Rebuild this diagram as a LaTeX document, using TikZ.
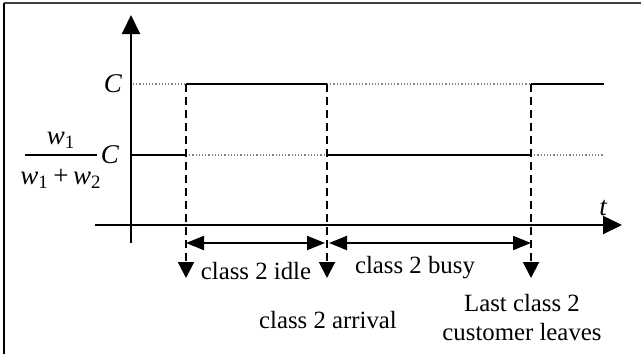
\documentclass[tikz,border=0pt]{standalone}
\usepackage{fontspec}
\setmainfont{Liberation Serif}
\usetikzlibrary{arrows.meta}
\tikzset{
  axis/.style={line width=1pt,-{Triangle[length=9.5pt,width=9pt]}},
  level/.style={line width=1.2pt},
  guide/.style={line width=0.6pt,gray,densely dotted},
  drop/.style={line width=1pt,dash pattern=on 4pt off 2.5pt,-{Triangle[length=8pt,width=8pt]}},
  span/.style={line width=1pt,{Triangle[length=9pt,width=7pt]}-{Triangle[length=9pt,width=7pt]}},
  lbl/.style={font=\fontsize{12.4}{14.5}\selectfont,inner sep=0pt},
  sym/.style={font=\fontsize{13.5}{15}\selectfont\itshape,inner sep=0pt}
}
\begin{document}
\begin{tikzpicture}[x=0.5pt,y=-0.5pt]
\useasboundingbox (0,0) rectangle (641,354);
% frame
\draw[line width=1pt,black!75] (4,3) -- (641,3);
\draw[line width=1pt] (4,3) -- (4,354);
% coordinates
\coordinate (yb) at (131,243);
\coordinate (yt) at (131,15);
\coordinate (tl) at (95,225);
\coordinate (tr) at (622,225);
\coordinate (u0) at (131,84);
\coordinate (u1) at (186,84);
\coordinate (u2) at (327,84);
\coordinate (u3) at (531,84);
\coordinate (u4) at (604,84);
\coordinate (l0) at (131,155);
\coordinate (l1) at (186,155);
\coordinate (l2) at (327,155);
\coordinate (l3) at (531,155);
\coordinate (l4) at (604,155);
\coordinate (d1) at (186,278);
\coordinate (d2) at (327,278);
\coordinate (d3) at (531,278);
\coordinate (s1) at (186,243);
\coordinate (s2a) at (325,243);
\coordinate (s2b) at (329,243);
\coordinate (s3) at (531,243);
% guides
\draw[guide] (133,84) -- (u1);
\draw[guide] (u2) -- (u3);
\draw[guide] (l1) -- (l2);
\draw[guide] (l3) -- (l4);
% levels
\draw[level] (u1) -- (u2);
\draw[level] (u3) -- (u4);
\draw[level] (l0) -- (l1);
\draw[level] (l2) -- (l3);
% axes
\draw[axis] (yb) -- (yt);
\draw[axis] (tl) -- (tr);
\node[sym] (t) at (603,208) {t};
% drops
\draw[drop] (u1) -- (d1);
\draw[drop] (u2) -- (d2);
\draw[drop] (u3) -- (d3);
% spans
\draw[span] (s1) -- (s2a);
\draw[span] (s2b) -- (s3);
% y labels
\node[sym] (cu) at (113,84) {C};
\node[sym] (cl) at (110,155) {C};
\draw[line width=0.8pt] (25,155) -- (97,155);
\node[sym] (wn) at (61,140) {w\textsubscript{\upshape 1}};
\node[sym] (wd) at (61,179) {w\textsubscript{\upshape 1}\,{\upshape +}\,w\textsubscript{\upshape 2}};
% texts
\node[lbl] (idle) at (256,271) {class 2 idle};
\node[lbl] (busy) at (415,268) {class 2 busy};
\node[lbl] (arr) at (328,320) {class 2 arrival};
\node[lbl,align=center] (last) at (522,318) {Last class 2\\customer leaves};
\end{tikzpicture}
\end{document}
